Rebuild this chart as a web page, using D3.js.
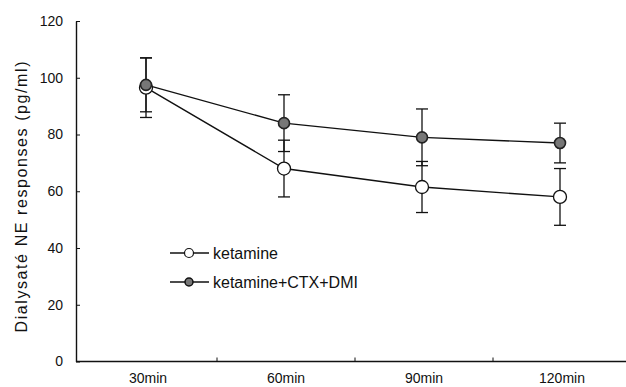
<!DOCTYPE html>
<html>
<head>
<meta charset="utf-8">
<script src="https://cdn.jsdelivr.net/npm/d3@7"></script>
<style>
  body { margin: 0; background: #fff; }
  text { font-family: Arial, "Liberation Sans", sans-serif; fill: #111; }
</style>
</head>
<body>
<div id="graph"></div>
<script>
let width = 626;
let height = 387;

// data
let categories = ['30min', '60min', '90min', '120min'];
let ketamine = [96.5, 68, 61.5, 58];
let ketamineErr = [10.5, 10, 9, 10];
let combo = [97.5, 84, 79, 77];
let comboErr = [9.5, 10, 10, 7];
let yTicks = [0, 20, 40, 60, 80, 100, 120];
let seriesNames = ['ketamine', 'ketamine+CTX+DMI'];

let x = d3.scaleBand().domain(categories).range([79, 631]);
let y = d3.scaleLinear().domain([0, 120]).range([361.5, 21]);
let cx = (d) => x(d) + x.bandwidth() / 2 - 2;

let svg = d3.select('#graph')
    .append('svg')
        .attr('width', width)
        .attr('height', height);

// y axis
let yAxis = svg.append('g')
    .attr('transform', 'translate(76,0)')
    .call(d3.axisLeft(y).tickValues(yTicks).tickSize(-4).tickSizeOuter(0).tickPadding(13));
yAxis.select('.domain').attr('stroke', '#111').attr('stroke-width', 1.4);
yAxis.selectAll('.tick line').attr('stroke', '#111');
yAxis.selectAll('text').style('font-size', '14px').style('font-family', 'Arial, "Liberation Sans", sans-serif');

// x axis: labels at band centres, small ticks at band boundaries
let xAxis = svg.append('g')
    .attr('transform', 'translate(0,' + y(0) + ')')
    .call(d3.axisBottom(x).tickSize(0).tickPadding(12));
xAxis.select('.domain').remove();
xAxis.selectAll('text').style('font-size', '14px').style('font-family', 'Arial, "Liberation Sans", sans-serif');

svg.append('line')
    .attr('x1', 76).attr('x2', 626)
    .attr('y1', y(0)).attr('y2', y(0))
    .attr('stroke', '#111').attr('stroke-width', 1.4);

svg.selectAll('.xtick')
    .data(categories.slice(1))
    .enter().append('line')
        .attr('class', 'xtick')
        .attr('x1', (d) => x(d)).attr('x2', (d) => x(d))
        .attr('y1', y(0)).attr('y2', y(0) - 4)
        .attr('stroke', '#111');

// y axis title
svg.append('text')
    .attr('transform', 'translate(27,197) rotate(-90)')
    .attr('text-anchor', 'middle')
    .attr('textLength', 271)
    .attr('lengthAdjust', 'spacing')
    .style('font-size', '16px')
    .text('Dialysaté NE responses (pg/ml)');

let line = d3.line()
    .x((d, i) => cx(categories[i]))
    .y((d) => y(d));

function errorBars(values, errs) {
    let g = svg.append('g');
    categories.forEach((c, i) => {
        let top = y(values[i] + errs[i]);
        let bot = y(values[i] - errs[i]);
        g.append('line')
            .attr('x1', cx(c)).attr('x2', cx(c))
            .attr('y1', top).attr('y2', bot)
            .attr('stroke', '#111').attr('stroke-width', 1.3);
        [top, bot].forEach((yy) => {
            g.append('line')
                .attr('x1', cx(c) - 6).attr('x2', cx(c) + 6)
                .attr('y1', yy).attr('y2', yy)
                .attr('stroke', '#111').attr('stroke-width', 1.3);
        });
    });
}

errorBars(ketamine, ketamineErr);
errorBars(combo, comboErr);

svg.append('path')
    .datum(ketamine)
    .attr('d', line)
    .attr('fill', 'none')
    .attr('stroke', '#111')
    .attr('stroke-width', 1.4);

svg.append('path')
    .datum(combo)
    .attr('d', line)
    .attr('fill', 'none')
    .attr('stroke', '#111')
    .attr('stroke-width', 1.4);

svg.selectAll('.open')
    .data(ketamine)
    .enter().append('circle')
        .attr('class', 'open')
        .attr('cx', (d, i) => cx(categories[i]))
        .attr('cy', (d) => y(d))
        .attr('r', 6.5)
        .attr('fill', '#fff')
        .attr('stroke', '#111')
        .attr('stroke-width', 1.3);

svg.selectAll('.filled')
    .data(combo)
    .enter().append('circle')
        .attr('class', 'filled')
        .attr('cx', (d, i) => cx(categories[i]))
        .attr('cy', (d) => y(d))
        .attr('r', 5.5)
        .attr('fill', '#777')
        .attr('stroke', '#222')
        .attr('stroke-width', 1.6);

// legend
let legend = svg.append('g');
seriesNames.forEach((name, i) => {
    let ly = 253 + i * 29;
    legend.append('line')
        .attr('x1', 170).attr('x2', 209)
        .attr('y1', ly).attr('y2', ly)
        .attr('stroke', '#111').attr('stroke-width', 1.3);
    legend.append('circle')
        .attr('cx', 189).attr('cy', ly)
        .attr('r', i === 0 ? 4.5 : 4)
        .attr('fill', i === 0 ? '#fff' : '#777')
        .attr('stroke', '#111')
        .attr('stroke-width', i === 0 ? 1.2 : 1.5);
    legend.append('text')
        .attr('x', 213).attr('y', ly + 5.5)
        .style('font-size', '16px')
        .text(name);
});
</script>
</body>
</html>
